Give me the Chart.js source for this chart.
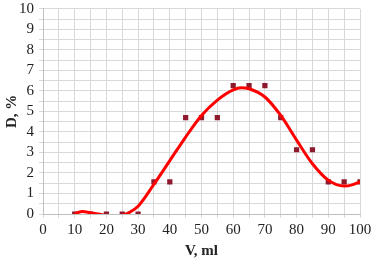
<!DOCTYPE html>
<html lang="ru">
<head>
<meta charset="UTF-8">
<title>D vs V</title>
<script src="https://cdn.jsdelivr.net/npm/chart.js"></script>
<style>
  body { margin: 0; background: #fff; }
  #wrap { width: 378px; height: 258px; }
</style>
</head>
<body>
<div id="wrap"><canvas id="chart" width="378" height="258"></canvas></div>
<script>
// measured points
const volumes = [10, 15, 20, 25, 30, 35, 40, 45, 50, 55, 60, 65, 70, 75, 80, 85, 90, 95, 100];
const dValues = [0, 0, 0, 0, 0, 1.56, 1.56, 4.69, 4.69, 4.69, 6.25, 6.25, 6.25, 4.69, 3.13, 3.13, 1.56, 1.56, 1.56];

// trend curve
const trendV = [10, 12.5, 15, 17.5, 20, 22.5, 25, 27.5, 30, 35, 40, 45, 50, 55, 60, 62.5, 65, 70, 75, 80, 85, 90, 95, 97.5, 100];
const trendD = [0.02, 0.12, 0.06, 0, -0.08, -0.12, -0.06, 0.1, 0.38, 1.45, 2.6, 3.75, 4.8, 5.55, 6.05, 6.15, 6.1, 5.7, 4.8, 3.6, 2.45, 1.65, 1.36, 1.42, 1.57];

const xLabels = [0, 10, 20, 30, 40, 50, 60, 70, 80, 90, 100];
const yLabels = [0, 1, 2, 3, 4, 5, 6, 7, 8, 9, 10];

const font = { family: "'Liberation Serif', serif", size: 15 };
const gridColor = "#d9d9d9";

new Chart(document.getElementById("chart"), {
    type: "scatter",
    data: {
        datasets: [
            {
                type: "line",
                data: trendV.map((v, i) => ({ x: v, y: trendD[i] })),
                borderColor: "#ff0000",
                borderWidth: 3,
                pointRadius: 0,
                cubicInterpolationMode: "monotone",
                fill: false
            },
            {
                data: volumes.map((v, i) => ({ x: v, y: dValues[i] })),
                pointStyle: "rect",
                pointRadius: 3.7,
                backgroundColor: "#8e1a2e",
                borderColor: "#8e1a2e",
                borderWidth: 0
            }
        ]
    },
    options: {
        responsive: false,
        animation: false,
        layout: { padding: { left: 3, right: 18, top: 0, bottom: 0 } },
        plugins: { legend: { display: false }, tooltip: { enabled: false } },
        scales: {
            x: {
                type: "linear",
                min: 0, max: 100,
                afterFit: s => { s.height = 44; },
                ticks: {
                    stepSize: 5, autoSkip: false, maxRotation: 0,
                    color: "#222", font: font, padding: 3,
                    callback: v => xLabels.includes(v) ? String(v) : ""
                },
                grid: { color: gridColor, tickLength: 4 },
                border: { color: "#bfbfbf" },
                title: { display: true, text: "V, ml", color: "#222", font: { ...font, weight: "bold", lineHeight: 0.9 }, padding: 0 }
            },
            y: {
                min: 0, max: 10,
                afterFit: s => { s.width = 40; },
                ticks: {
                    stepSize: 0.5, autoSkip: false,
                    color: "#222", font: { ...font, lineHeight: 0.5 }, padding: 5,
                    callback: v => yLabels.includes(v) ? String(v) : ""
                },
                grid: { color: gridColor, tickLength: 4 },
                border: { color: "#bfbfbf" },
                title: { display: true, text: "D, %", color: "#222", font: { ...font, weight: "bold" }, padding: 0 }
            }
        }
    }
});
</script>
</body>
</html>
